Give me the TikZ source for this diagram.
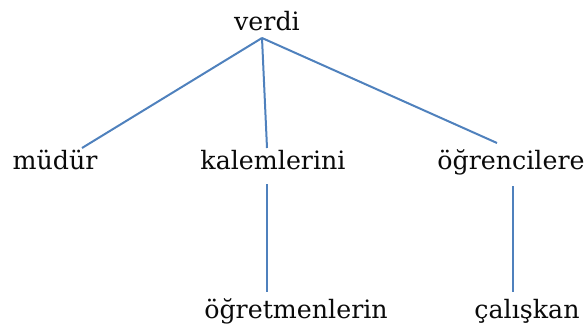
\documentclass[tikz,border=0pt]{standalone}
\usepackage{fontspec}
\setmainfont{DejaVu Serif}
\definecolor{edge}{RGB}{79,129,189}
\definecolor{txt}{RGB}{10,10,10}
\begin{document}
\begin{tikzpicture}[x=1pt,y=-1pt,
  word/.style={anchor=base,inner sep=0pt,text=txt,font=\fontsize{25.3}{30}\selectfont},
  link/.style={draw=edge,line width=2pt}]
\useasboundingbox (0,0) rectangle (586,332);
\node[word] (verdi) at (267,30) {verdi};
\node[word] (mudur) at (55,169) {müdür};
\node[word] (kalem) at (273,169) {kalemlerini};
\node[word] (ogrenci) at (511,169) {öğrencilere};
\node[word] (ogretmen) at (296,318) {öğretmenlerin};
\node[word] (caliskan) at (527,318) {çalışkan};
\coordinate (vb) at (262,38);
\coordinate (mt) at (82,148);
\coordinate (kt) at (267,148);
\coordinate (ot) at (497,143);
\coordinate (kb) at (267,184);
\coordinate (gt) at (267,292);
\coordinate (ob) at (513,186);
\coordinate (ct) at (513,292);
\draw[link] (vb) -- (mt);
\draw[link] (vb) -- (kt);
\draw[link] (vb) -- (ot);
\draw[link] (kb) -- (gt);
\draw[link] (ob) -- (ct);
\end{tikzpicture}
\end{document}
